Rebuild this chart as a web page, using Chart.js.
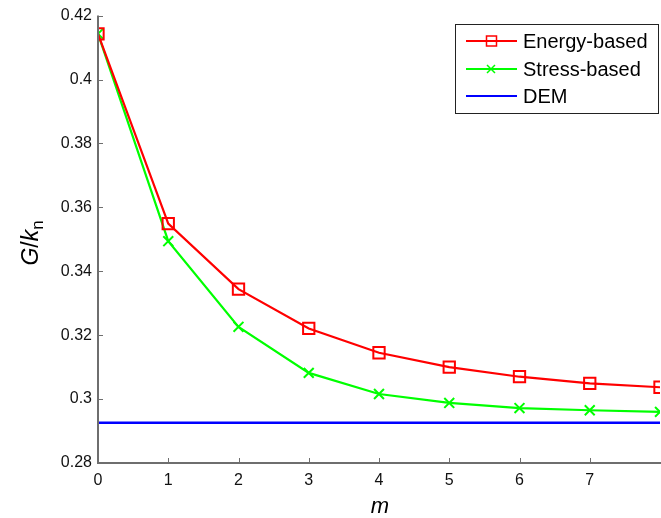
<!DOCTYPE html>
<html>
<head>
<meta charset="utf-8">
<script src="https://cdn.jsdelivr.net/npm/chart.js@4"></script>
<style>
  html, body { margin: 0; padding: 0; background: #fff; overflow: hidden; }
  #wrap { width: 670px; height: 518px; }
</style>
</head>
<body>
<div id="wrap"><canvas id="chart" width="670" height="518"></canvas></div>
<script>
const mValues = [0, 1, 2, 3, 4, 5, 6, 7, 8];
const energyBased = [0.4143, 0.3549, 0.3344, 0.3221, 0.3145, 0.3100, 0.3070, 0.3049, 0.3037];
const stressBased = [0.4143, 0.3494, 0.3226, 0.3082, 0.3016, 0.2988, 0.2972, 0.2965, 0.2960];
const demValue = 0.2926;
const yTicks = [0.28, 0.3, 0.32, 0.34, 0.36, 0.38, 0.4, 0.42];
const xTicks = [0, 1, 2, 3, 4, 5, 6, 7];

const FONT = '"Liberation Sans", Arial, sans-serif';
const AXIS_COLOR = '#6e6e6e';

const toPoints = (ys) => mValues.map((x, i) => ({ x: x, y: ys[i] }));

// inward tick marks, axis lines, axis titles and legend box
const decor = {
    id: 'decor',
    afterDraw(chart) {
        const ctx = chart.ctx;
        const xs = chart.scales.x, ys = chart.scales.y;
        const a = chart.chartArea;
        ctx.save();
        ctx.strokeStyle = AXIS_COLOR;
        ctx.lineWidth = 1;
        ctx.beginPath();
        xTicks.forEach(v => {
            const px = Math.round(xs.getPixelForValue(v)) + 0.5;
            ctx.moveTo(px, a.bottom); ctx.lineTo(px, a.bottom - 5);
        });
        yTicks.forEach(v => {
            const py = Math.round(ys.getPixelForValue(v)) + 0.5;
            ctx.moveTo(a.left, py); ctx.lineTo(a.left + 5, py);
        });
        ctx.stroke();
        ctx.lineWidth = 2;
        ctx.beginPath();
        ctx.moveTo(a.left, a.top); ctx.lineTo(a.left, a.bottom);
        ctx.lineTo(a.right + 10, a.bottom);
        ctx.stroke();

        // x title
        ctx.fillStyle = '#000';
        ctx.font = 'italic 22px ' + FONT;
        ctx.textAlign = 'center';
        ctx.textBaseline = 'alphabetic';
        ctx.fillText('m', 380, 513);

        // y title: G/k_n
        ctx.translate(38, 243);
        ctx.rotate(-Math.PI / 2);
        ctx.textAlign = 'left';
        const parts = [
            { t: 'G', f: 'italic 23px ' + FONT, dy: 0 },
            { t: '/', f: '23px ' + FONT, dy: 0 },
            { t: 'k', f: 'italic 23px ' + FONT, dy: 0 },
            { t: 'n', f: '17px ' + FONT, dy: 5 }
        ];
        let w = 0;
        parts.forEach(p => { ctx.font = p.f; w += ctx.measureText(p.t).width; });
        let x = -w / 2;
        parts.forEach(p => {
            ctx.font = p.f;
            ctx.fillText(p.t, x, p.dy);
            x += ctx.measureText(p.t).width;
        });
        ctx.restore();

        // legend
        ctx.save();
        ctx.fillStyle = '#fff';
        ctx.fillRect(455, 24, 203, 89);
        ctx.strokeStyle = '#222';
        ctx.lineWidth = 1;
        ctx.strokeRect(455.5, 24.5, 203, 89);
        const items = chart.data.datasets;
        const rows = [41, 69, 96];
        items.forEach((ds, i) => {
            const y = rows[i];
            ctx.strokeStyle = ds.borderColor;
            ctx.lineWidth = 2;
            ctx.beginPath();
            ctx.moveTo(466, y); ctx.lineTo(517, y);
            ctx.stroke();
            if (ds.pointStyle === 'rect') {
                ctx.lineWidth = 1.5;
                ctx.strokeRect(486.5, y - 5, 10, 10);
            } else if (ds.pointStyle === 'cross') {
                ctx.lineWidth = 1.5;
                ctx.beginPath();
                ctx.moveTo(487, y - 4); ctx.lineTo(495, y + 4);
                ctx.moveTo(495, y - 4); ctx.lineTo(487, y + 4);
                ctx.stroke();
            }
            ctx.fillStyle = '#000';
            ctx.font = '20px ' + FONT;
            ctx.textAlign = 'left';
            ctx.textBaseline = 'middle';
            ctx.fillText(ds.label, 523, y + 1);
        });
        ctx.restore();
    }
};

new Chart(document.getElementById('chart').getContext('2d'), {
    type: 'line',
    data: {
        datasets: [
            {
                label: 'Energy-based',
                data: toPoints(energyBased),
                borderColor: '#ff0000',
                backgroundColor: 'rgba(0,0,0,0)',
                borderWidth: 2.2,
                pointStyle: 'rect',
                pointRadius: 8,
                pointBorderWidth: 2,
                tension: 0
            },
            {
                label: 'Stress-based',
                data: toPoints(stressBased),
                borderColor: '#00ff00',
                backgroundColor: 'rgba(0,0,0,0)',
                borderWidth: 2.2,
                pointStyle: 'cross',
                pointRotation: 45,
                pointRadius: 7,
                pointBorderWidth: 2,
                tension: 0
            },
            {
                label: 'DEM',
                data: [{ x: 0, y: demValue }, { x: 8, y: demValue }],
                borderColor: '#0000ff',
                backgroundColor: 'rgba(0,0,0,0)',
                borderWidth: 2.5,
                pointRadius: 0,
                tension: 0
            }
        ]
    },
    options: {
        responsive: false,
        animation: false,
        layout: { padding: { left: 0, right: 6, top: 15, bottom: 0 } },
        plugins: { legend: { display: false }, tooltip: { enabled: false } },
        scales: {
            x: {
                type: 'linear',
                min: 0, max: 8,
                afterFit: (s) => { s.height = 55; },
                afterBuildTicks: (s) => { s.ticks = mValues.map(v => ({ value: v })); },
                grid: { display: false, drawTicks: false },
                border: { display: false },
                ticks: {
                    color: '#111',
                    font: { family: FONT, size: 16 },
                    padding: 8,
                    maxRotation: 0,
                    callback: (v) => xTicks.includes(v) ? String(v) : ''
                }
            },
            y: {
                min: 0.28, max: 0.42,
                afterFit: (s) => { s.width = 98; },
                afterBuildTicks: (s) => { s.ticks = yTicks.map(v => ({ value: v })); },
                grid: { display: false, drawTicks: false },
                border: { display: false },
                ticks: {
                    color: '#111',
                    font: { family: FONT, size: 16 },
                    padding: 6,
                    callback: (v) => String(parseFloat(v.toFixed(2)))
                }
            }
        }
    },
    plugins: [decor]
});
</script>
</body>
</html>
